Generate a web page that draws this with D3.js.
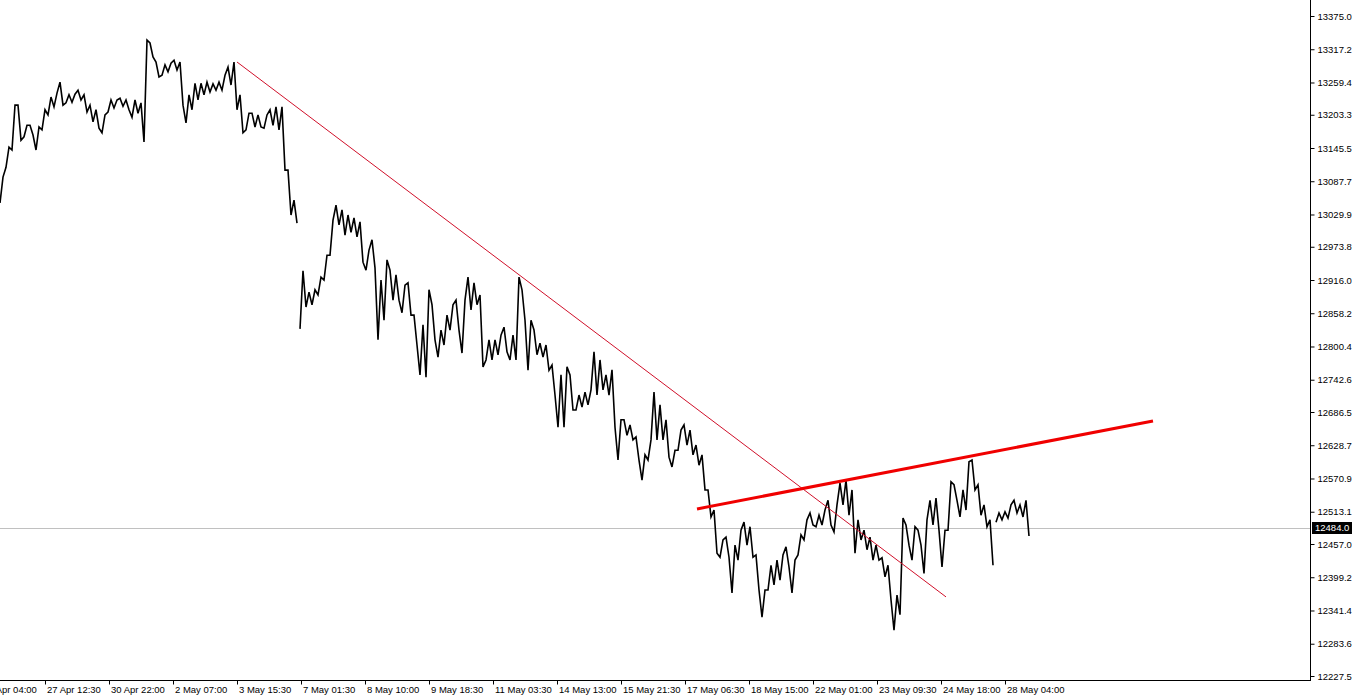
<!DOCTYPE html>
<html>
<head>
<meta charset="utf-8">
<script src="https://cdn.jsdelivr.net/npm/d3@7"></script>
<style>
body { margin: 0; background: #fff; overflow: hidden; }
text { font-family: "Liberation Sans", Arial, sans-serif; font-size: 9.5px; fill: #000; }
</style>
</head>
<body>
<script>
/*price range inside each column of bars (high / low)*/
var highs = [
	13095,13147,13220,13220,13185,13185,13182,13212,13234,13241,
	13260,13238,13239,13246,13238,13220,13212,13203,13229,13229,
	13232,13229,13229,13224,13333,13328,13295,13290,13293,13298,
	13295,13238,13258,13258,13260,13257,13260,13272,13286,13295,
	13238,13206,13206,13203,13203,13212,13217,13217,13107,13055,
	12932,12895,12899,12921,12959,13020,13046,13038,13029,13024,
	13017,12968,12986,12916,12951,12933,12925,12907,12911,12855,
	12838,12899,12873,12829,12855,12873,12881,12881,12921,12911,
	12890,12812,12812,12820,12834,12820,12921,12899,12846,12829,
	12806,12803,12768,12751,12765,12751,12716,12721,12725,12791,
	12777,12751,12760,12673,12673,12664,12643,12612,12638,12721,
	12699,12673,12620,12655,12664,12655,12629,12612,12551,12516,
	12464,12469,12455,12481,12495,12487,12438,12377,12420,12429,
	12438,12452,12429,12473,12499,12511,12507,12516,12533,12525,
	12563,12568,12551,12499,12481,12469,12455,12433,12420,12368,
	12502,12490,12487,12481,12499,12533,12537,12481,12565,12560,
	12551,12600,12603,12560,12525,12499,12511,12513,12525,12533,
	12525,12533
];
var lows = [
	13050,13112,13142,13159,13165,13168,13142,13177,13203,13217,
	13220,13224,13225,13229,13208,13191,13180,13172,13208,13215,
	13218,13212,13199,13206,13156,13304,13269,13272,13278,13281,
	13220,13189,13212,13229,13238,13243,13246,13246,13255,13212,
	13172,13177,13182,13182,13180,13185,13177,13107,13029,13015,
	12831,12869,12873,12890,12916,12959,13012,12994,12999,12991,
	12947,12933,12937,12812,12846,12881,12881,12859,12855,12803,
	12751,12747,12812,12782,12803,12829,12829,12789,12864,12873,
	12765,12777,12777,12786,12791,12777,12777,12846,12759,12786,
	12782,12759,12716,12660,12660,12690,12690,12695,12699,12716,
	12725,12716,12660,12603,12646,12638,12603,12568,12603,12638,
	12638,12608,12591,12620,12629,12612,12594,12551,12504,12441,
	12434,12434,12372,12429,12455,12434,12377,12330,12377,12386,
	12394,12417,12372,12438,12464,12490,12487,12490,12490,12478,
	12525,12507,12441,12464,12447,12429,12429,12400,12360,12307,
	12334,12455,12429,12455,12406,12490,12481,12417,12481,12533,
	12504,12516,12551,12507,12487,12420,12495,12499,12502,12511,
	12504,12471
];
/*columns where a new piece of the line starts (gaps in the quotes)*/
var sessionBreaks = [50, 166];
var firstBar = 9.5;
var barsPerColumn = 3;

/*time axis labels, one every 32 bars starting at bar 0*/
var timeLabels = ["26 Apr 04:00","27 Apr 12:30","30 Apr 22:00","2 May 07:00","3 May 15:30",
	"7 May 01:30","8 May 10:00","9 May 18:30","11 May 03:30","14 May 13:00","15 May 21:30",
	"17 May 06:30","18 May 15:00","22 May 01:00","23 May 09:30","24 May 18:00","28 May 04:00"];
var barsPerLabel = 32;

/*price axis labels*/
var priceTicks = [13375.0,13317.2,13259.4,13203.3,13145.5,13087.7,13029.9,12973.8,12916.0,
	12858.2,12800.4,12742.6,12686.5,12628.7,12570.9,12513.1,12457.0,12399.2,12341.4,12283.6,12227.5];
var lastPrice = 12484.0;

/*trend lines: [bar, price] end points*/
var downTrend = [[128, 13295], [482.5, 12365]];
var upTrend = [[358, 12518], [586, 12671]];

var svgWidth = 1352, svgHeight = 698;
var plotRight = 1310, plotBottom = 680;

var svg = d3.select("body").append("svg")
	.attr("width", svgWidth)
	.attr("height", svgHeight);

var x = d3.scaleLinear().domain([0, 664]).range([-19, plotRight - 1]);
var y = d3.scaleLinear().domain([12227.5, 13375]).range([676, 16]);

svg.append("defs").append("clipPath").attr("id", "plot")
	.append("rect").attr("x", 0).attr("y", 0).attr("width", plotRight).attr("height", plotBottom);

var plot = svg.append("g").attr("clip-path", "url(#plot)");

/*last price line*/
plot.append("line")
	.attr("x1", 0).attr("x2", plotRight)
	.attr("y1", Math.round(y(lastPrice)) + 0.5).attr("y2", Math.round(y(lastPrice)) + 0.5)
	.attr("stroke", "#c0c0c0").attr("stroke-width", 1);

/*build the pieces of the price line, each column draws its range as a small zigzag*/
var starts = [0].concat(sessionBreaks), ends = sessionBreaks.concat([highs.length]);
var line = d3.line().x(d => x(d[0])).y(d => y(d[1]));
starts.forEach(function (s, k) {
	var pts = [];
	for (var i = s; i < ends[k]; i++) {
		var mid = (highs[i] + lows[i]) / 2;
		/*rising or falling: look at the next column, or the previous one for the last column*/
		var rising;
		if (i + 1 < ends[k]) {
			rising = (highs[i + 1] + lows[i + 1]) / 2 >= mid;
		} else {
			rising = mid >= (highs[i - 1] + lows[i - 1]) / 2;
		}
		var bar = firstBar + i * barsPerColumn;
		if (rising) {
			pts.push([bar, lows[i]], [bar + barsPerColumn / 2, highs[i]]);
		} else {
			pts.push([bar, highs[i]], [bar + barsPerColumn / 2, lows[i]]);
		}
	}
	plot.append("path")
		.attr("d", line(pts))
		.attr("fill", "none")
		.attr("stroke", "#000")
		.attr("stroke-width", 1.6)
		.attr("stroke-linejoin", "miter");
});

/*trend lines*/
plot.append("path")
	.attr("d", line(downTrend))
	.attr("stroke", "#d0102a").attr("stroke-width", 1).attr("fill", "none");
plot.append("path")
	.attr("d", line(upTrend))
	.attr("stroke", "#f00000").attr("stroke-width", 3).attr("fill", "none");

/*price axis*/
var rightAxis = d3.axisRight(y).tickValues(priceTicks).tickSize(4).tickPadding(3)
	.tickFormat(d => d.toFixed(1));
var yAxis = svg.append("g")
	.attr("transform", `translate(${plotRight + 0.5}, 0)`)
	.call(rightAxis);
yAxis.select(".domain").remove();
yAxis.selectAll("line").attr("stroke", "#000");
yAxis.selectAll("text").attr("font-size", null).attr("font-family", null);

/*time axis*/
var tickBars = timeLabels.map((d, i) => i * barsPerLabel);
var bottomAxis = d3.axisBottom(x).tickValues(tickBars).tickSize(4).tickPadding(2)
	.tickFormat((d, i) => timeLabels[i]);
var xAxis = svg.append("g")
	.attr("transform", `translate(0, ${plotBottom + 0.5})`)
	.call(bottomAxis);
xAxis.select(".domain").remove();
xAxis.selectAll("line").attr("stroke", "#000");
xAxis.selectAll("text").attr("text-anchor", "start").attr("x", 1.5)
	.attr("font-size", null).attr("font-family", null);

/*frame lines*/
svg.append("line").attr("x1", 0).attr("x2", plotRight + 1)
	.attr("y1", plotBottom + 0.5).attr("y2", plotBottom + 0.5).attr("stroke", "#000");
svg.append("line").attr("x1", plotRight + 0.5).attr("x2", plotRight + 0.5)
	.attr("y1", 0).attr("y2", plotBottom + 1).attr("stroke", "#000");

/*last price marker*/
var lp = svg.append("g")
	.attr("transform", `translate(${plotRight + 2}, ${Math.round(y(lastPrice))})`);
lp.append("rect").attr("x", 0).attr("y", -6).attr("width", 40).attr("height", 12).attr("fill", "#000");
lp.append("text").attr("x", 3).attr("dy", "0.34em").style("fill", "#fff").text(lastPrice.toFixed(1));
</script>
</body>
</html>
